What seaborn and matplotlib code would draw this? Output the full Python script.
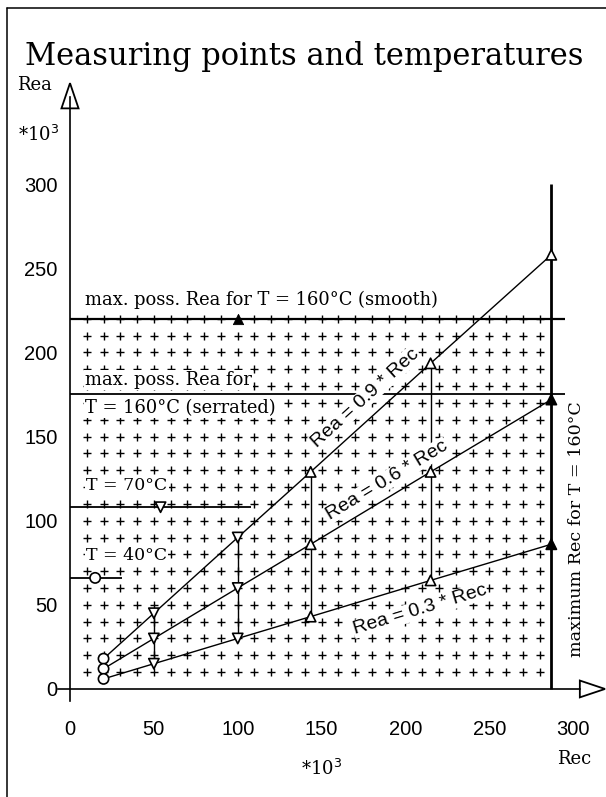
import numpy as np
import pandas as pd
import matplotlib
matplotlib.use("Agg")
import matplotlib.pyplot as plt
from matplotlib.lines import Line2D
from matplotlib.patches import Polygon
import seaborn as sns

# ---------------- data ----------------
rec_points = [20, 50, 100, 143.5, 215, 287]
rea_09 = [18, 45, 90, 129, 193.5, 258]
rea_06 = [12, 30, 60, 86, 129, 172]
rea_03 = [6, 15, 30, 43, 64.5, 86]
point_shapes = ["o", "v", "v", "^", "^", "^"]
ratio_labels = ["Rea = 0.9 * Rec", "Rea = 0.6 * Rec", "Rea = 0.3 * Rec"]
ratio_values = [0.9, 0.6, 0.3]

limit_rea = [220, 175, 108, 66]
limit_rec_end = [295, 295, 108, 31]
limit_marker_rec = [100, 54, 15]
limit_marker_rea = [220, 108, 66]
limit_marker_shape = ["^", "v", "o"]

max_rec = 287
max_rec_top = 300

grid_rec = list(range(10, 290, 10))
grid_rea = list(range(10, 230, 10))

x_ticks = [0, 50, 100, 150, 200, 250, 300]
y_ticks = [0, 50, 100, 150, 200, 250, 300]

SERIF = "DejaVu Serif"
SANS = "Liberation Sans"

sns.set_style("white")
plt.rcParams["font.family"] = [SERIF, "DejaVu Sans"]
plt.rcParams["text.color"] = "black"

W, H = 606, 797
fig = plt.figure(figsize=(W / 100, H / 100), dpi=100)
ax = fig.add_axes([0, 0, 1, 1])
ax.set_xlim(-41.74, 319.6)
ax.set_ylim(-64.2, 409.4)
ax.set_facecolor("white")

# plus grid
gx, gy = np.meshgrid(grid_rec, grid_rea)
grid_df = pd.DataFrame({"Rec": gx.ravel(), "Rea": gy.ravel()})
sns.scatterplot(data=grid_df, x="Rec", y="Rea", marker="+", s=28, color="black",
                linewidth=1.0, ax=ax, zorder=1, legend=False)

# limit lines
lw_limits = [1.6, 1.3, 1.3, 1.3]
for r, e, lw in zip(limit_rea, limit_rec_end, lw_limits):
    ax.hlines(r, 0, e, color="black", lw=lw, zorder=3)

# ratio lines
for rea in (rea_09, rea_06, rea_03):
    sns.lineplot(x=rec_points, y=rea, color="black", lw=1.0, ax=ax, zorder=3,
                 estimator=None, sort=False)

# vertical connectors
ax.vlines(rec_points[1:5], rea_03[1:5], rea_09[1:5], color="black", lw=1.0, zorder=3)
ax.vlines(max_rec, 0, max_rec_top, color="black", lw=2.0, zorder=3)

# measuring points
pts = pd.DataFrame({
    "Rec": rec_points * 3,
    "Rea": rea_09 + rea_06 + rea_03,
    "shape": point_shapes * 3,
})
filled = (pts["Rec"] == max_rec) & (pts["Rea"] < 200)
mk = {"o": "o", "v": "v", "^": "^"}
sns.scatterplot(data=pts[~filled], x="Rec", y="Rea", style="shape", markers=mk,
                s=55, color="white", edgecolor="black", linewidth=1.2,
                ax=ax, zorder=5, legend=False)
sns.scatterplot(data=pts[filled], x="Rec", y="Rea", style="shape", markers=mk,
                s=55, color="black", edgecolor="black", linewidth=1.2,
                ax=ax, zorder=5, legend=False)

lim_df = pd.DataFrame({"Rec": limit_marker_rec, "Rea": limit_marker_rea,
                       "shape": limit_marker_shape})
sns.scatterplot(data=lim_df.iloc[:1], x="Rec", y="Rea", marker="^", s=55,
                color="black", edgecolor="black", ax=ax, zorder=5, legend=False)
sns.scatterplot(data=lim_df.iloc[1:], x="Rec", y="Rea", style="shape", markers=mk,
                s=55, color="white", edgecolor="black", linewidth=1.2,
                ax=ax, zorder=5, legend=False)

# axes (spines at zero)
for s in ("top", "right"):
    ax.spines[s].set_visible(False)
ax.spines["left"].set_position(("data", 0))
ax.spines["bottom"].set_position(("data", 0))
ax.spines["left"].set_bounds(-7, 352)
ax.spines["bottom"].set_bounds(-7, 304)
for s in ("left", "bottom"):
    ax.spines[s].set_linewidth(1.2)
    ax.spines[s].set_color("black")
    ax.spines[s].set_zorder(4)
ax.set_xticks(x_ticks)
ax.set_yticks(y_ticks)
ax.set_xticklabels([str(v) for v in x_ticks])
ax.set_yticklabels([str(v) for v in y_ticks])
ax.tick_params(axis="both", direction="inout", length=12, width=1.0,
               labelsize=14.5, labelfontfamily=SANS, colors="black")
ax.tick_params(axis="x", pad=16)
ax.tick_params(axis="y", pad=3)
ax.set_xlabel("")
ax.set_ylabel("")

# arrow heads
ax.add_patch(Polygon([(-5.1, 345), (5.1, 345), (0, 360)], closed=True,
                     fill=False, ec="black", lw=1.3, zorder=4))
ax.add_patch(Polygon([(304, 5.0), (304, -5.0), (319, 0)], closed=True,
                     fill=False, ec="black", lw=1.3, zorder=4))

# labels
box = dict(facecolor="white", edgecolor="none", pad=1.0)
ax.text(9, 231, "max. poss. Rea for T = 160°C (smooth)", ha="left", va="center",
        fontsize=12.9, family=SERIF, bbox=box, zorder=2)
ax.text(9, 183.6, "max. poss. Rea for", ha="left", va="center",
        fontsize=12.9, family=SERIF, bbox=box, zorder=2)
ax.text(9, 167, "T = 160°C (serrated)", ha="left", va="center",
        fontsize=12.9, family=SERIF, bbox=box, zorder=2)
ax.text(9.5, 121, "T = 70°C", ha="left", va="center",
        fontsize=12.5, family=SERIF, bbox=box, zorder=2)
ax.text(9.5, 79.6, "T = 40°C", ha="left", va="center",
        fontsize=12.5, family=SERIF, bbox=box, zorder=2)
ax.text(302.3, 95, "maximum Rec for T = 160°C", ha="center", va="center",
        rotation=90, fontsize=12.6, family=SERIF, zorder=2)

ratio_pos = [(176, 173), (189, 124), (208.7, 47)]
for lab, k, (px, py) in zip(ratio_labels, ratio_values, ratio_pos):
    p0 = ax.transData.transform((0, 0))
    p1 = ax.transData.transform((100, 100 * k))
    ang = np.degrees(np.arctan2(p1[1] - p0[1], p1[0] - p0[0]))
    ax.text(px, py, lab, ha="center", va="center", rotation=ang,
            rotation_mode="anchor", fontsize=14, family=SANS,
            bbox=dict(facecolor="white", edgecolor="none", pad=0.5), zorder=6)

ax.text(-20.9, 359, "Rea", ha="center", va="center", fontsize=13, family=SERIF)
ax.text(-18.5, 329, "*10$^{3}$", ha="center", va="center", fontsize=13, family=SERIF)
ax.text(300.5, -41.6, "Rec", ha="center", va="center", fontsize=13, family=SERIF)
ax.text(149.7, -47.5, "*10$^{3}$", ha="center", va="center", fontsize=13, family=SERIF)

fig.text(304 / W, 1 - 56 / H, "Measuring points and temperatures", ha="center",
         va="center", fontsize=22, family=SERIF)

# frame
fig.add_artist(Line2D([7 / W, 7 / W], [0, 1 - 8 / H], color="black", lw=1.1,
                      transform=fig.transFigure))
fig.add_artist(Line2D([7 / W, 1], [1 - 8 / H, 1 - 8 / H], color="black", lw=1.1,
                      transform=fig.transFigure))

fig.savefig("out.png", dpi=100, facecolor="white")
